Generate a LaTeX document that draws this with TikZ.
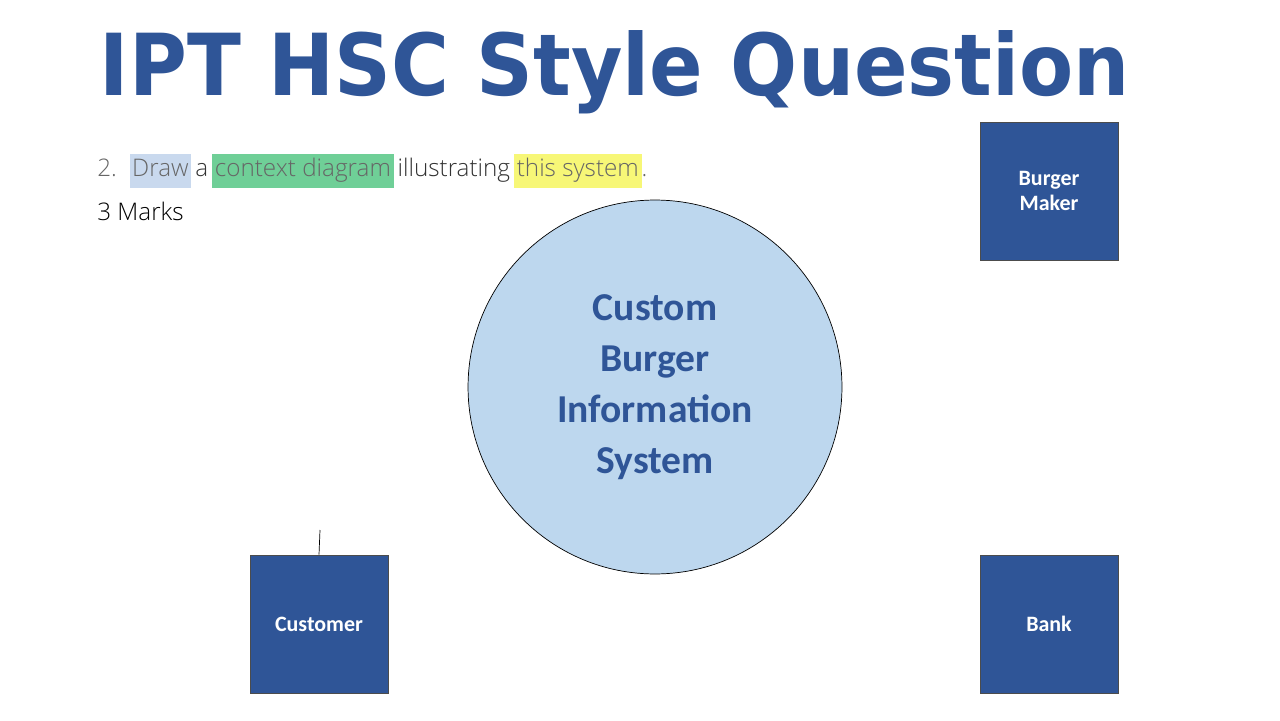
\documentclass[tikz,border=0pt]{standalone}
\usepackage{fontspec}
\setmainfont{Carlito}
\newfontfamily\thinfont{Open Sans Light}
\newfontfamily\titlefont{DejaVu Sans}
\definecolor{boxblue}{HTML}{2F5597}
\definecolor{bubble}{HTML}{BDD7EE}
\definecolor{hlblue}{HTML}{C9D9EE}
\definecolor{hlgreen}{HTML}{6FCF97}
\definecolor{hlyellow}{HTML}{F7F777}
\newcommand{\hilite}[2]{{\setlength{\fboxsep}{1.5pt}\colorbox{#1}{\strut #2}}}
\tikzset{
  entity/.style={draw=black!70,fill=boxblue,minimum size=2.76cm,text=white,
    font=\bfseries\fontsize{12.5}{14}\selectfont,align=center},
  process/.style={circle,draw=black,fill=bubble,minimum size=7.48cm,text=boxblue,
    font=\bfseries\fontsize{22.5}{29}\selectfont,align=center}
}
\begin{document}
\begin{tikzpicture}[x=0.02cm,y=-0.02cm]
  \useasboundingbox (0,0) rectangle (1280,720);
  % Title
  \node[text=boxblue] (title) at (615,72) {\resizebox{20.6cm}{1.3cm}{\titlefont\bfseries IPT HSC Style Question}};
  % Question
  \node[anchor=west,text=black!60,font=\thinfont\fontsize{13.8}{16}\selectfont,inner sep=0pt] (question) at (97,171)
    {2.\ \ \hilite{hlblue}{Draw}\,\textcolor{black!80}{a}\,\hilite{hlgreen}{context diagram}\,\textcolor{black!80}{illustrating}\,\hilite{hlyellow}{this system}.};
  \node[anchor=west,font=\thinfont\fontsize{13.8}{16}\selectfont,inner sep=0pt] (marks) at (97,211) {3 Marks};
  % Diagram
  \node[process] (system) at (655,387) {Custom\\Burger\\Information\\System};
  \node[entity] (maker) at (1049,191) {Burger\\Maker};
  \node[entity] (customer) at (319,624) {Customer};
  \node[entity] (bank) at (1049,624) {Bank};
  \coordinate (stub) at (320,530);
  \draw (customer.north) -- (stub);
\end{tikzpicture}
\end{document}
